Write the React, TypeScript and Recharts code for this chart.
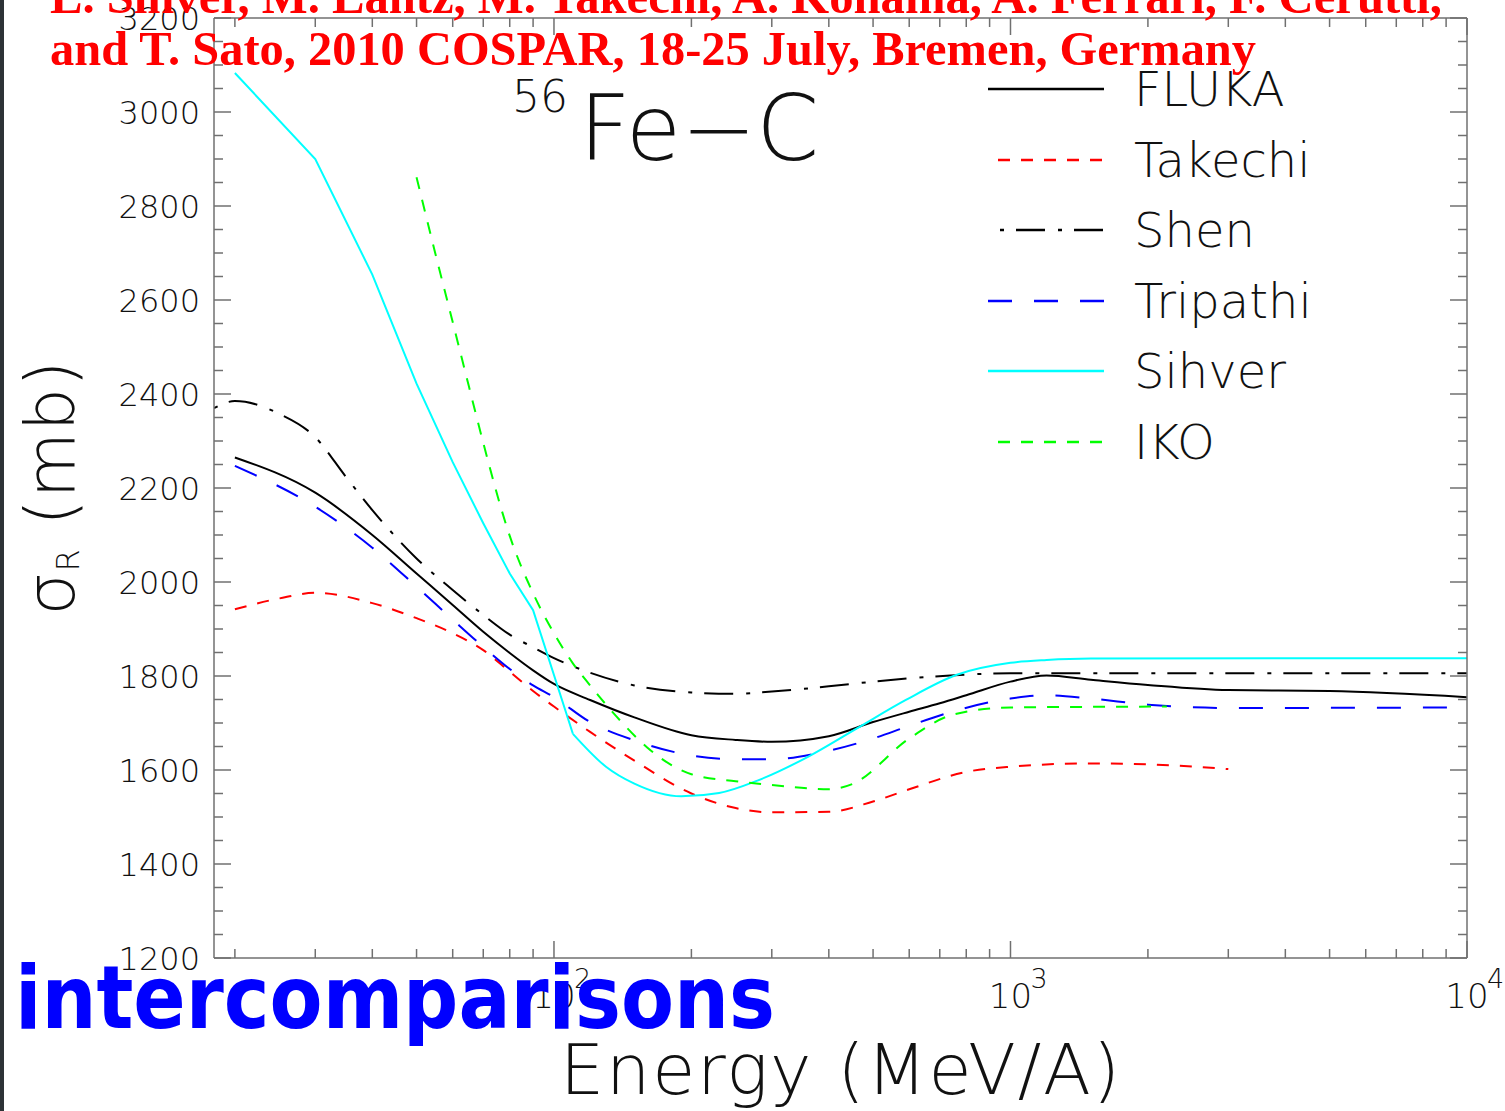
import { Legend, Line, LineChart, XAxis, YAxis } from "recharts";

// Energies in MeV/A and cross sections in mb.
const flukaE = [20, 30, 40, 50, 60, 70, 80, 90, 100, 120, 150, 200, 250, 300, 400, 500, 600, 700, 800, 1000, 1200, 1500, 2000, 3000, 5000, 10000];
const flukaV = [2265, 2190, 2100, 2018, 1951, 1894, 1849, 1812, 1783, 1749, 1712, 1674, 1664, 1660, 1672, 1702, 1724, 1742, 1759, 1788, 1801, 1792, 1781, 1770, 1768, 1755];

const takechiE = [20, 25, 30, 40, 50, 60, 70, 80, 90, 100, 120, 150, 200, 250, 300, 400, 500, 600, 800, 1000, 1500, 2000, 3000];
const takechiV = [1942, 1965, 1977, 1955, 1923, 1891, 1855, 1809, 1768, 1735, 1681, 1620, 1550, 1519, 1510, 1511, 1533, 1559, 1596, 1607, 1614, 1612, 1602];

const shenE = [18, 20, 25, 30, 35, 40, 50, 60, 70, 80, 90, 100, 120, 150, 200, 250, 300, 400, 500, 600, 800, 1000, 10000];
const shenV = [2370, 2385, 2358, 2308, 2224, 2153, 2050, 1983, 1930, 1888, 1861, 1838, 1807, 1780, 1765, 1762, 1767, 1778, 1788, 1795, 1803, 1806, 1806];

const tripathiE = [20, 30, 40, 50, 60, 70, 80, 90, 100, 120, 150, 200, 250, 300, 400, 500, 600, 750, 1000, 1200, 1500, 2000, 3000, 10000];
const tripathiV = [2247, 2160, 2073, 1990, 1920, 1862, 1815, 1780, 1755, 1702, 1663, 1631, 1623, 1623, 1641, 1667, 1694, 1725, 1752, 1759, 1752, 1739, 1732, 1733];

// Sihver: straight pieces up to 110 MeV/A, smooth above
const sihverLowE = [20, 30, 40, 50, 60, 70, 80, 90, 110];
const sihverLowV = [3083, 2900, 2654, 2422, 2255, 2125, 2018, 1940, 1677];
const sihverHighE = [110, 130, 150, 190, 230, 280, 360, 460, 590, 760, 1000, 1200, 1500, 10000];
const sihverHighV = [1677, 1607, 1571, 1544, 1551, 1578, 1628, 1688, 1749, 1802, 1828, 1834, 1837, 1838];

const ikoE = [50, 55, 60, 65, 70, 80, 90, 100, 110, 120, 140, 160, 200, 250, 300, 400, 450, 600, 750, 1000, 2200];
const ikoV = [2861, 2698, 2553, 2419, 2296, 2098, 1976, 1891, 1827, 1780, 1704, 1648, 1591, 1576, 1568, 1559, 1570, 1667, 1718, 1733, 1735];

const xMajors = [100, 1000, 10000];
const xMinorSteps = [2, 3, 4, 5, 6, 7, 8, 9];
const xTicks = [10, 100, 1000]
  .flatMap((d) => xMinorSteps.map((m) => m * d))
  .concat(xMajors)
  .filter((v) => v >= 18)
  .sort((a, b) => a - b);
const yTicks = Array.from({ length: 41 }, (_, i) => 1200 + i * 50);

const pts = (e: number[], v: number[]) => e.map((x, i) => ({ e: x, v: v[i] }));

const SERIES = [
  { name: "FLUKA", color: "#000000", dash: undefined, dashOffset: 0 },
  { name: "Takechi", color: "#ff0000", dash: "12 11", dashOffset: 13 },
  { name: "Shen", color: "#000000", dash: "4 12 29 13", dashOffset: 46 },
  { name: "Tripathi", color: "#0000ff", dash: "24 22", dashOffset: 0 },
  { name: "Sihver", color: "#00ffff", dash: undefined, dashOffset: 0 },
  { name: "IKO", color: "#00ff00", dash: "12 11", dashOffset: 13 },
];

// one entry per drawn path (Sihver is split in two pieces)
const PATHS = [
  { key: "fluka", s: 0, data: pts(flukaE, flukaV), curve: "monotone" },
  { key: "takechi", s: 1, data: pts(takechiE, takechiV), curve: "monotone" },
  { key: "shen", s: 2, data: pts(shenE, shenV), curve: "monotone" },
  { key: "tripathi", s: 3, data: pts(tripathiE, tripathiV), curve: "monotone" },
  { key: "sihverLow", s: 4, data: pts(sihverLowE, sihverLowV), curve: "linear" },
  { key: "sihverHigh", s: 4, data: pts(sihverHighE, sihverHighV), curve: "monotone" },
  { key: "iko", s: 5, data: pts(ikoE, ikoV), curve: "monotone" },
];

const AXIS = "#707070";
const FONT = "'DejaVu Sans', Lato, sans-serif";
const THIN = 200;

const isMajorX = (v: number) => xMajors.includes(v);

function BottomTick({ x, y, payload }: any) {
  const v = payload.value;
  const major = isMajorX(v);
  return (
    <g>
      <line x1={x} x2={x} y1={y} y2={y - (major ? 17 : 9)} stroke={AXIS} strokeWidth={1.5} />
      {major && (
        <g fontFamily={FONT} fontWeight={THIN} fill="#111">
          <text x={x} y={y + 50} fontSize={34} textAnchor="middle">10</text>
          <text x={x + 20} y={y + 30} fontSize={27}>{Math.round(Math.log10(v))}</text>
        </g>
      )}
    </g>
  );
}

function TopTick({ x, y, payload }: any) {
  const major = isMajorX(payload.value);
  return <line x1={x} x2={x} y1={y} y2={y + (major ? 17 : 9)} stroke={AXIS} strokeWidth={1.5} />;
}

function LeftTick({ x, y, payload }: any) {
  const v = payload.value;
  const major = v % 200 === 0;
  return (
    <g>
      <line x1={x} x2={x + (major ? 17 : 9)} y1={y} y2={y} stroke={AXIS} strokeWidth={1.5} />
      {major && (
        <text x={x - 14} y={y} dy="0.36em" fontSize={32} textAnchor="end" fontFamily={FONT} fontWeight={THIN} fill="#111">
          {v}
        </text>
      )}
    </g>
  );
}

function RightTick({ x, y, payload }: any) {
  const major = payload.value % 200 === 0;
  return <line x1={x} x2={x - (major ? 17 : 9)} y1={y} y2={y} stroke={AXIS} strokeWidth={1.5} />;
}

function LegendBox() {
  return (
    <div style={{ fontFamily: FONT, fontWeight: THIN, fontSize: 48, color: "#111" }}>
      {SERIES.map((s) => (
        <div key={s.name} style={{ height: 70.5, display: "flex", alignItems: "center" }}>
          <svg width={116} height={8} style={{ flex: "none" }}>
            <line
              x1={0} x2={116} y1={4} y2={4}
              stroke={s.color} strokeWidth={2.5}
              strokeDasharray={s.dash} strokeDashoffset={s.dashOffset}
            />
          </svg>
          <span style={{ marginLeft: 30, lineHeight: 1 }}>{s.name}</span>
        </div>
      ))}
    </div>
  );
}

export default function App() {
  return (
    <div style={{ position: "absolute", left: 0, top: 0, width: 1505, height: 1111, background: "#fff", overflow: "hidden" }}>
      <div style={{ position: "absolute", left: 0, top: 0, width: 4, height: 1111, background: "#2d3236" }} />
      <LineChart width={1505} height={1111} margin={{ top: 0, right: 0, bottom: 0, left: 0 }}>
        <XAxis
          xAxisId={0} type="number" dataKey="e" scale="log" domain={[18, 10000]} allowDataOverflow
          ticks={xTicks} interval={0} height={153} tickSize={0} tickMargin={0} tickLine={false}
          axisLine={{ stroke: AXIS, strokeWidth: 1.5 }} tick={BottomTick}
        />
        <XAxis
          xAxisId="top" orientation="top" type="number" dataKey="e" scale="log" domain={[18, 10000]} allowDataOverflow
          ticks={xTicks} interval={0} height={18} tickSize={0} tickMargin={0} tickLine={false}
          axisLine={{ stroke: AXIS, strokeWidth: 1.5 }} tick={TopTick}
        />
        <YAxis
          yAxisId={0} type="number" domain={[1200, 3200]} allowDataOverflow ticks={yTicks} interval={0}
          width={214} tickSize={0} tickMargin={0} tickLine={false}
          axisLine={{ stroke: AXIS, strokeWidth: 1.5 }} tick={LeftTick}
        />
        <YAxis
          yAxisId="right" orientation="right" type="number" domain={[1200, 3200]} allowDataOverflow ticks={yTicks} interval={0}
          width={38} tickSize={0} tickMargin={0} tickLine={false}
          axisLine={{ stroke: AXIS, strokeWidth: 1.5 }} tick={RightTick}
        />
        <Legend
          layout="vertical" align="center" verticalAlign="middle"
          wrapperStyle={{ top: 54, left: 988, width: 460, height: 430 }}
          content={() => <LegendBox />}
        />
        {PATHS.map((p) => {
          const s = SERIES[p.s];
          return (
            <Line
              key={p.key} xAxisId={0} yAxisId={0} name={s.name} data={p.data} dataKey="v"
              type={p.curve as any} stroke={s.color} strokeWidth={2} strokeDasharray={s.dash}
              dot={false} activeDot={false} isAnimationActive={false}
            />
          );
        })}
      </LineChart>
      <svg width={1505} height={1111} style={{ position: "absolute", left: 0, top: 0, pointerEvents: "none" }}>
        <g fontFamily={FONT} fontWeight={THIN} fill="#111">
          <text x={512} y={112} fontSize={44}>56</text>
          <text x={579} y={160} fontSize={90} textLength={240} lengthAdjust="spacing">Fe−C</text>
          <text x={840} y={1094} fontSize={70} textAnchor="middle" textLength={560} lengthAdjust="spacing">
            Energy (MeV/A)
          </text>
          <text transform="translate(74 488) rotate(-90)" fontSize={68} textAnchor="middle" textLength={255} lengthAdjust="spacing">
            σ<tspan fontSize={32} dy={5}>R</tspan><tspan dy={-5}> (mb)</tspan>
          </text>
        </g>
        <g fontFamily="'Liberation Serif', 'Times New Roman', serif" fontWeight="bold" fill="#ff0000" fontSize={48}>
          <text x={50} y={13} textLength={1392} lengthAdjust="spacingAndGlyphs">
            L. Sihver, M. Lantz, M. Takechi, A. Kohama, A. Ferrari, F. Cerutti,
          </text>
          <text x={50} y={65} textLength={1206} lengthAdjust="spacingAndGlyphs">
            and T. Sato, 2010 COSPAR, 18-25 July, Bremen, Germany
          </text>
        </g>
        <text
          x={15} y={1028} fontSize={88} fontWeight="bold" fill="#0000ff"
          fontFamily="'Comic Sans MS', 'DejaVu Sans', sans-serif" textLength={760} lengthAdjust="spacingAndGlyphs"
        >
          intercomparisons
        </text>
      </svg>
    </div>
  );
}
